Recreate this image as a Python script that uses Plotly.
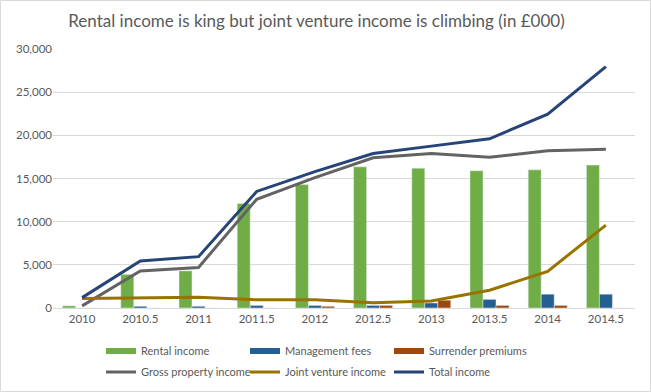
import plotly.graph_objects as go

categories = ["2010", "2010.5", "2011", "2011.5", "2012", "2012.5", "2013", "2013.5", "2014", "2014.5"]
rental_income = [250, 3900, 4300, 12100, 14300, 16350, 16200, 15900, 16000, 16550]
management_fees = [0, 200, 200, 300, 300, 300, 580, 1000, 1600, 1600]
surrender_premiums = [0, 0, 0, 0, 200, 300, 900, 300, 300, 0]
gross_property_income = [250, 4300, 4700, 12600, 15100, 17400, 17900, 17450, 18200, 18400]
joint_venture_income = [1100, 1150, 1250, 950, 950, 600, 800, 2050, 4250, 9600]
total_income = [1200, 5450, 5950, 13500, 15800, 17900, 18750, 19600, 22450, 27950]

W, H = 651, 392
ML, MR, MT, MB = 53, 16, 49, 84
pw = W - ML - MR
ph = H - MT - MB

bar_series = [("Rental income", rental_income, "#70AD47"),
              ("Management fees", management_fees, "#255E91"),
              ("Surrender premiums", surrender_premiums, "#9E480E")]
line_series = [("Gross property income", gross_property_income, "#636363"),
               ("Joint venture income", joint_venture_income, "#997300"),
               ("Total income", total_income, "#264478")]

# legend slots (pixel positions of each legend entry)
col_px = [101, 245, 389]
row_px = [351, 372]

fig = go.Figure()
for name, vals, col in bar_series:
    fig.add_bar(x=categories, y=vals, name=name, marker_color=col,
                legendgroup=name, showlegend=False)

legends = {}
k = 0
for r, series in enumerate([bar_series, line_series]):
    for c, (name, vals, col) in enumerate(series):
        k += 1
        lid = "legend" if k == 1 else f"legend{k}"
        legends[lid] = dict(x=col_px[c] / W, y=1 - row_px[r] / H,
                            xref="container", yref="container",
                            xanchor="left", yanchor="middle", orientation="h",
                            font=dict(size=11, color="#595959"), itemwidth=30,
                            bgcolor="rgba(0,0,0,0)", borderwidth=0)
        if r == 0:
            # legend swatch for the bar series (thick rectangle like the original)
            fig.add_scatter(x=[categories[0]], y=[None], name=name, mode="lines",
                            line=dict(color=col, width=6), legendgroup=name,
                            legend=lid, hoverinfo="skip")
        else:
            fig.add_scatter(x=categories, y=vals, name=name, mode="lines",
                            line=dict(color=col, width=3), legend=lid)

fig.add_shape(type="rect", xref="paper", yref="paper",
              x0=(-ML + 0.5) / pw, x1=(pw + MR - 0.5) / pw,
              y0=(-MB + 0.5) / ph, y1=(ph + MT - 0.5) / ph,
              line=dict(color="#D9D9D9", width=1), layer="below")

fig.update_layout(
    width=W, height=H,
    margin=dict(l=ML, r=MR, t=MT, b=MB, autoexpand=False),
    paper_bgcolor="white", plot_bgcolor="white",
    font=dict(family="Lato, Liberation Sans, sans-serif", color="#595959", size=11),
    title=dict(text="Rental income is king but joint venture income is climbing (in £000)",
               x=316.5 / W, xref="container", xanchor="center", y=1 - 21 / H, yanchor="middle",
               font=dict(size=17, color="#595959")),
    barmode="group", bargap=0.33, bargroupgap=0,
    showlegend=True,
    **legends,
)
fig.update_xaxes(type="category", showgrid=False, showline=True, linecolor="#D9D9D9",
                 ticks="", tickfont=dict(size=11.5, color="#595959"))
fig.update_yaxes(range=[0, 30000], dtick=5000, tickformat=",", showgrid=True, gridcolor="#D9D9D9",
                 zeroline=False, showline=False, ticks="", tickfont=dict(size=11.5, color="#595959"))

fig.write_html("out.html", config={"displayModeBar": False},
               post_script="document.body.style.margin='0';")
